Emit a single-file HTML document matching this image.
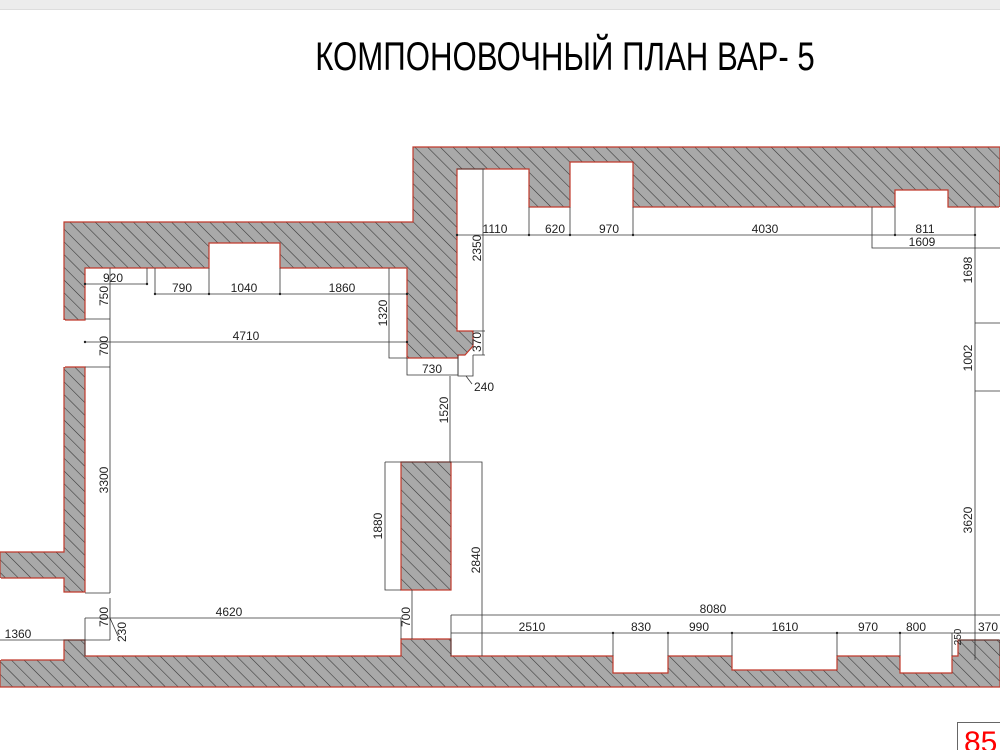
<!DOCTYPE html>
<html><head><meta charset="utf-8"><style>
html,body{margin:0;padding:0;background:#fff;}
svg{display:block;}
text{font-family:"Liberation Sans",sans-serif;font-size:12px;fill:#222;}
</style></head><body>
<svg width="1000" height="750" viewBox="0 0 1000 750" xmlns="http://www.w3.org/2000/svg">
<defs>
<pattern id="h" patternUnits="userSpaceOnUse" width="9" height="9" patternTransform="rotate(-45)">
<rect width="9" height="9" fill="#a9a9a9"/>
<line x1="0" y1="0" x2="0" y2="9" stroke="#333" stroke-width="1.1"/>
</pattern>
</defs>
<rect x="0" y="0" width="1000" height="9" fill="#ececec"/>
<line x1="0" y1="9.5" x2="1000" y2="9.5" stroke="#ddd"/>
<text x="565" y="70" text-anchor="middle" transform="translate(565 0) scale(0.78 1) translate(-565 0)" style="font-size:40px;fill:#000">КОМПОНОВОЧНЫЙ ПЛАН ВАР- 5</text>

<polygon points="64,222 413,222 413,147 1000,147 1000,687 0,687 0,552 64,552" fill="url(#h)" stroke="#c0392b" stroke-width="1.2"/>
<polygon points="85,268 209,268 209,243 280,243 280,268 407,268 407,358 458,358 458,355 465,355 473,346 473,331 457,331 457,169 529,169 529,207 570,207 570,162 633,162 633,207 895,207 895,190 948,190 948,207 1000,207 1000,640 958,640 958,656 952,656 952,673 900,673 900,656 837,656 837,670 732,670 732,656 668,656 668,673 613,673 613,656 451,656 451,639 401,639 401,656 85,656 85,640 64,640 64,660 0,660 0,578 64,578 64,592 85,592 85,367 64,367 64,320 85,320" fill="#fff" stroke="#c0392b" stroke-width="1.2"/>
<line x1="64" y1="320" x2="64" y2="367" stroke="#fff" stroke-width="2"/>
<line x1="0" y1="578" x2="0" y2="660" stroke="#fff" stroke-width="2"/>
<line x1="1000" y1="207" x2="1000" y2="640" stroke="#fff" stroke-width="2"/>
<rect x="401" y="462" width="50" height="128" fill="url(#h)" stroke="#c0392b" stroke-width="1.2"/>

<g stroke="#333" stroke-width="0.8" fill="none">
<path d="M85 284H147V268"/>
<path d="M155 268V294H407M209 268V294M280 268V294"/>
<path d="M110 268V593M85 319H110M85 367H110M85 593H110"/>
<path d="M85 342H407"/>
<path d="M389 268V358H407"/>
<path d="M407 358V375H458M458 358V375"/>
<path d="M458 355V376H473V355"/>
<path d="M466 376L472 384"/>
<path d="M483 331V355M473 331H485M473 355H485"/>
<path d="M483 169V331M457 169H485"/>
<path d="M457 235H975M529 207V235M570 207V235M633 207V235M895 207V235"/>
<path d="M872 207V248H1000"/>
<path d="M975 207V660M975 323H1000M975 391H1000"/>
<path d="M450 376V462"/>
<path d="M385 462H482V656M385 462V590H401"/>
<path d="M412 590V639"/>
<path d="M85 618H401V639M85 618V656"/>
<path d="M110 598V640M110 618L118 636"/>
<path d="M0 640H110"/>
<path d="M451 615H1000M451 615V656"/>
<path d="M451 633H1000M613 633V656M668 633V656M732 633V656M837 633V656M900 633V656M952 633V656"/>
<path d="M958 640H1000V656"/>
</g>
<g fill="#222">
<circle cx="85" cy="284" r="1.2"/><circle cx="147" cy="284" r="1.2"/><circle cx="155" cy="294" r="1.2"/><circle cx="209" cy="294" r="1.2"/><circle cx="280" cy="294" r="1.2"/><circle cx="407" cy="294" r="1.2"/>
<circle cx="85" cy="342" r="1.2"/><circle cx="407" cy="342" r="1.2"/><circle cx="457" cy="235" r="1.2"/><circle cx="529" cy="235" r="1.2"/><circle cx="570" cy="235" r="1.2"/><circle cx="633" cy="235" r="1.2"/><circle cx="895" cy="235" r="1.2"/><circle cx="975" cy="235" r="1.2"/>
<circle cx="613" cy="633" r="1.2"/><circle cx="668" cy="633" r="1.2"/><circle cx="732" cy="633" r="1.2"/><circle cx="837" cy="633" r="1.2"/><circle cx="900" cy="633" r="1.2"/>
</g>

<g>
<text x="113" y="282" text-anchor="middle">920</text>
<text x="182" y="292" text-anchor="middle">790</text>
<text x="244" y="292" text-anchor="middle">1040</text>
<text x="342" y="292" text-anchor="middle">1860</text>
<text x="246" y="340" text-anchor="middle">4710</text>
<text x="432" y="373" text-anchor="middle">730</text>
<text x="484" y="391" text-anchor="middle">240</text>
<text x="495" y="233" text-anchor="middle">1110</text>
<text x="555" y="233" text-anchor="middle">620</text>
<text x="609" y="233" text-anchor="middle">970</text>
<text x="765" y="233" text-anchor="middle">4030</text>
<text x="925" y="233" text-anchor="middle">811</text>
<text x="922" y="246" text-anchor="middle">1609</text>
<text x="229" y="616" text-anchor="middle">4620</text>
<text x="18" y="638" text-anchor="middle">1360</text>
<text x="713" y="613" text-anchor="middle">8080</text>
<text x="532" y="631" text-anchor="middle">2510</text>
<text x="641" y="631" text-anchor="middle">830</text>
<text x="699" y="631" text-anchor="middle">990</text>
<text x="785" y="631" text-anchor="middle">1610</text>
<text x="868" y="631" text-anchor="middle">970</text>
<text x="916" y="631" text-anchor="middle">800</text>
<text x="988" y="631" text-anchor="middle">370</text>
<text transform="translate(108 296) rotate(-90)" text-anchor="middle">750</text>
<text transform="translate(108 346) rotate(-90)" text-anchor="middle">700</text>
<text transform="translate(108 480) rotate(-90)" text-anchor="middle">3300</text>
<text transform="translate(108 617) rotate(-90)" text-anchor="middle">700</text>
<text transform="translate(126 632) rotate(-90)" text-anchor="middle">230</text>
<text transform="translate(387 313) rotate(-90)" text-anchor="middle">1320</text>
<text transform="translate(481 342) rotate(-90)" text-anchor="middle">370</text>
<text transform="translate(481 248) rotate(-90)" text-anchor="middle">2350</text>
<text transform="translate(448 410) rotate(-90)" text-anchor="middle">1520</text>
<text transform="translate(480 560) rotate(-90)" text-anchor="middle">2840</text>
<text transform="translate(382 526) rotate(-90)" text-anchor="middle">1880</text>
<text transform="translate(410 617) rotate(-90)" text-anchor="middle">700</text>
<text transform="translate(972 270) rotate(-90)" text-anchor="middle">1698</text>
<text transform="translate(972 358) rotate(-90)" text-anchor="middle">1002</text>
<text transform="translate(972 520) rotate(-90)" text-anchor="middle">3620</text>
<text transform="translate(961 637) rotate(-90)" text-anchor="middle" style="font-size:10px">250</text>
</g>

<rect x="957.5" y="722.5" width="50" height="40" fill="#fff" stroke="#666"/>
<text x="964" y="752" style="font-size:30px;fill:#f00">85</text>
</svg>
</body></html>
